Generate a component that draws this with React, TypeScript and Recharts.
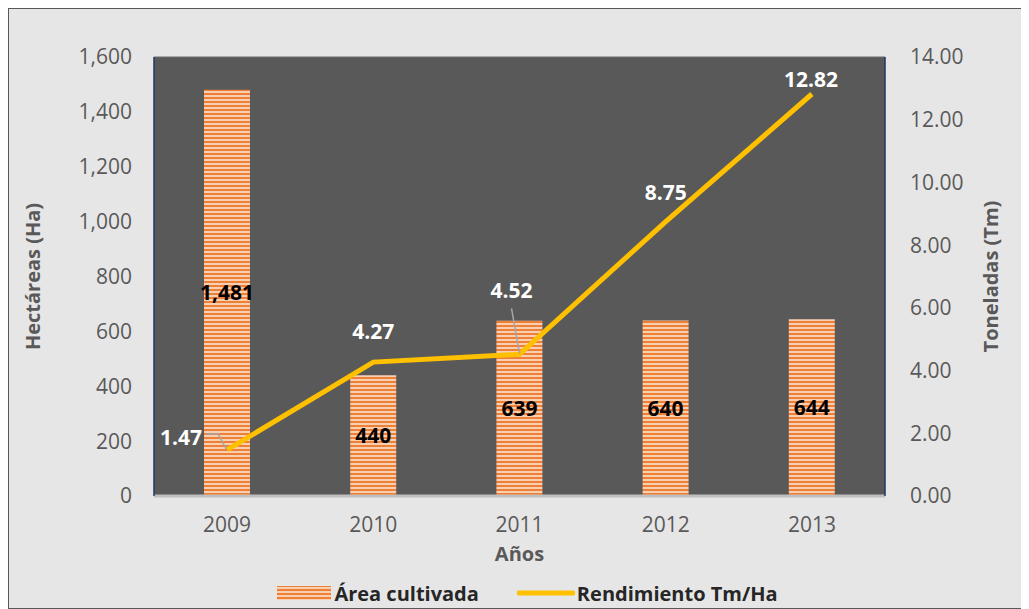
import React from 'react';
import { ComposedChart, Bar, Line, XAxis, YAxis, CartesianGrid, LabelList, Legend } from 'recharts';

const years = ['2009', '2010', '2011', '2012', '2013'];
const areaCultivada = [1481, 440, 639, 640, 644];
const rendimiento = [1.47, 4.27, 4.52, 8.75, 12.82];
const areaTicks = [0, 200, 400, 600, 800, 1000, 1200, 1400, 1600];
const rendTicks = [0, 2, 4, 6, 8, 10, 12, 14];

const data = years.map((year, i) => ({
  year,
  area: areaCultivada[i],
  rend: rendimiento[i]
}));

// where each yield label sits relative to its point (Excel moved two of them by hand)
const LINE_LABEL_OFFSETS: Array<[number, number]> = [
  [-46, -13],
  [0, -31],
  [-8, -64],
  [0, -30],
  [-1, -15]
];

const FONT = "'Open Sans', 'Noto Sans', sans-serif";
const ORANGE = '#EE7F36';
const ORANGE_LIGHT = '#F9CFB2';
const YELLOW = '#FFC000';
const TEXT_GRAY = '#595959';

const StripeDefs = () => (
  <defs>
    <pattern id="stripes" patternUnits="userSpaceOnUse" width="4" height="4">
      <rect width="4" height="4" fill={ORANGE} />
      <rect y="2" width="4" height="2" fill={ORANGE_LIGHT} />
    </pattern>
  </defs>
);

function LineValueLabel(props: any) {
  const { value, index } = props;
  const x = props.x ?? props.viewBox?.x;
  const y = props.y ?? props.viewBox?.y;
  if (x == null || y == null) return null;
  const [dx, dy] = LINE_LABEL_OFFSETS[index] ?? [0, -30];
  let leader = null;
  if (index === 0) {
    leader = (
      <polyline
        points={`${x - 21},${y - 16} ${x - 9},${y - 16} ${x - 1},${y - 1}`}
        fill="none"
        stroke="#a6a6a6"
        strokeWidth={1.5}
      />
    );
  } else if (index === 2) {
    leader = <line x1={x - 8} y1={y - 46} x2={x} y2={y - 1} stroke="#a6a6a6" strokeWidth={1.5} />;
  }
  return (
    <g>
      {leader}
      <text
        x={x + dx}
        y={y + dy}
        textAnchor="middle"
        dominantBaseline="central"
        fill="#ffffff"
        fontFamily={FONT}
        fontWeight={700}
        fontSize={21}
      >
        {Number(value).toFixed(2)}
      </text>
    </g>
  );
}

function AxisTitle(props: any) {
  const { viewBox, value, side } = props;
  if (!viewBox) return null;
  if (side === 'bottom') {
    return (
      <text
        x={viewBox.x + viewBox.width / 2}
        y={viewBox.y + 57}
        textAnchor="middle"
        dominantBaseline="central"
        fill={TEXT_GRAY}
        fontFamily={FONT}
        fontWeight={700}
        fontSize={20}
      >
        {value}
      </text>
    );
  }
  const cx = side === 'left' ? viewBox.x + 18 : viewBox.x + viewBox.width - 33;
  const cy = viewBox.y + viewBox.height / 2;
  return (
    <text
      x={cx}
      y={cy}
      transform={`rotate(-90 ${cx} ${cy})`}
      textAnchor="middle"
      dominantBaseline="central"
      fill={TEXT_GRAY}
      fontFamily={FONT}
      fontWeight={700}
      fontSize={20}
    >
      {value}
    </text>
  );
}

const LegendContent = () => (
  <div
    style={{
      height: 30,
      display: 'flex',
      alignItems: 'center',
      justifyContent: 'center',
      fontFamily: FONT,
      fontWeight: 700,
      fontSize: 20,
      color: '#262626',
      paddingLeft: 18
    }}
  >
    <svg width={54} height={16} style={{ marginRight: 3 }}>
      <StripeDefs />
      <rect x={0} y={1} width={54} height={14} fill="url(#stripes)" />
    </svg>
    <span>Área cultivada</span>
    <svg width={58} height={10} style={{ marginLeft: 38, marginRight: 2 }}>
      <line x1={2} y1={5} x2={56} y2={5} stroke={YELLOW} strokeWidth={5} strokeLinecap="round" />
    </svg>
    <span>Rendimiento Tm/Ha</span>
  </div>
);

export default function App() {
  return (
    <div
      style={{
        width: 1019,
        height: 599,
        border: '1px solid #595959',
        background: '#E7E6E6',
        boxShadow: '2px 2px 3px rgba(0,0,0,0.25)'
      }}
    >
      <ComposedChart
        width={1019}
        height={599}
        data={data}
        margin={{ top: 48, right: 5, bottom: 0, left: 5 }}
        barCategoryGap="34%"
      >
        <StripeDefs />
        <CartesianGrid vertical={false} stroke="#6c6c6c" fill="#595959" />
        <XAxis
          dataKey="year"
          height={82}
          tickLine={false}
          tickSize={0}
          tickMargin={21}
          axisLine={{ stroke: '#bfbfbf', strokeWidth: 3 }}
          tick={{ fill: TEXT_GRAY, fontSize: 21, fontFamily: FONT }}
          label={<AxisTitle value="Años" side="bottom" />}
        />
        <YAxis
          yAxisId="left"
          width={140}
          domain={[0, 1600]}
          ticks={areaTicks}
          tickLine={false}
          tickSize={0}
          tickMargin={22}
          axisLine={{ stroke: '#1F3864', strokeWidth: 1.5 }}
          tick={{ fill: TEXT_GRAY, fontSize: 21, fontFamily: FONT }}
          tickFormatter={(v: number) => v.toLocaleString('en-US')}
          label={<AxisTitle value="Hectáreas (Ha)" side="left" />}
        />
        <YAxis
          yAxisId="right"
          orientation="right"
          width={138}
          domain={[0, 14]}
          ticks={rendTicks}
          tickLine={false}
          tickSize={0}
          tickMargin={25}
          axisLine={{ stroke: '#1F3864', strokeWidth: 1.5 }}
          tick={{ fill: TEXT_GRAY, fontSize: 21, fontFamily: FONT, textAnchor: 'start' }}
          tickFormatter={(v: number) => v.toFixed(2)}
          label={<AxisTitle value="Toneladas (Tm)" side="right" />}
        />
        <Legend verticalAlign="bottom" content={<LegendContent />} />
        <Bar
          yAxisId="left"
          dataKey="area"
          name="Área cultivada"
          barSize={46}
          fill="url(#stripes)"
          isAnimationActive={false}
        >
          <LabelList
            dataKey="area"
            position="center"
            fill="#000000"
            fontFamily={FONT}
            fontWeight={700}
            fontSize={21}
            formatter={(v: any) => Number(v).toLocaleString('en-US')}
          />
        </Bar>
        <Line
          yAxisId="right"
          dataKey="rend"
          name="Rendimiento Tm/Ha"
          stroke={YELLOW}
          strokeWidth={5}
          dot={false}
          activeDot={false}
          isAnimationActive={false}
        >
          <LabelList dataKey="rend" content={<LineValueLabel />} />
        </Line>
      </ComposedChart>
    </div>
  );
}
